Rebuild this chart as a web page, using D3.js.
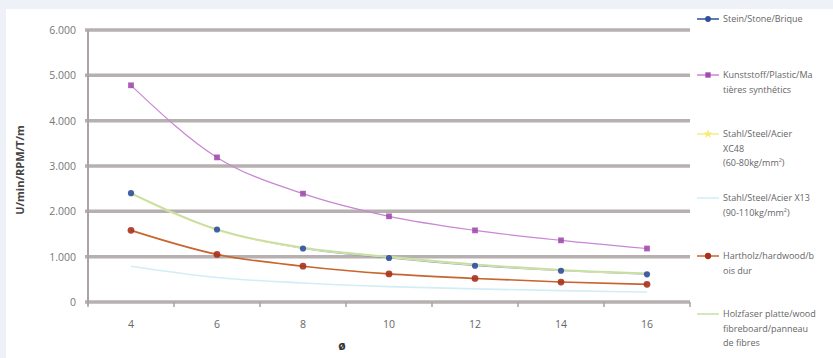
<!DOCTYPE html>
<html lang="en">
	<head>
		<meta charset="utf-8">
		<title>Drehzahl</title>
		<script type="text/javascript" src="https://cdn.jsdelivr.net/npm/d3@7/dist/d3.min.js"></script>
		<style type="text/css">
			body { margin: 0; background: #eef1f8; }
			svg { display: block; }
			text { font-family: "Open Sans", sans-serif; }
		</style>
	</head>
	<body>
		<script type="text/javascript">

			// Data
			var diameters = [4, 6, 8, 10, 12, 14, 16];
			var yTicks = [0, 1000, 2000, 3000, 4000, 5000, 6000];

			var stein      = [2400, 1600, 1180, 970, 800, 690, 610];
			var kunststoff = [4780, 3190, 2390, 1890, 1580, 1360, 1180];
			var stahlC45   = [2390, 1590, 1190, 990, 820, 700, 620];
			var stahlX13   = [790, 540, 420, 340, 290, 250, 220];
			var hartholz   = [1580, 1050, 790, 620, 520, 440, 390];
			var holzfaser  = [2400, 1600, 1200, 1000, 830, 710, 630];

			var seriesNames = [
				["Stein/Stone/Brique"],
				["Kunststoff/Plastic/Ma", "tières synthétics"],
				["Stahl/Steel/Acier", "XC48", "(60-80kg/mm²)"],
				["Stahl/Steel/Acier X13", "(90-110kg/mm²)"],
				["Hartholz/hardwood/b", "ois dur"],
				["Holzfaser platte/wood", "fibreboard/panneau", "de fibres"]
			];
			var seriesValues = [stein, kunststoff, stahlC45, stahlX13, hartholz, holzfaser];
			var colors = ["#2f4f9a", "#a34bb0", "#f5ec70", "#bfe6f2", "#a8321c", "#b8dca0"];
			var lineColors = ["#6f86b8", "#c986d3", "#f5ec90", "#d3edf6", "#c8642e", "#c4e0a8"];
			var lineWidths = [0.8, 1.2, 1.6, 1.6, 1.6, 1.8];
			var markers = ["diamond", "square", "none", "none", "circle", "none"];
			var legendMarkers = ["diamond", "square", "star", "none", "circle", "none"];
			var legendY = [19, 75, 134, 198, 256, 314];

			var w = 833, h = 358;
			var margin = {left: 88, right: 143, top: 30, bottom: 56};

			var svg = d3.select("body").append("svg")
						.attr("width", w)
						.attr("height", h);

			svg.append("rect")
			   .attr("x", 6).attr("y", 9)
			   .attr("width", w - 6).attr("height", h - 9)
			   .attr("fill", "#ffffff");

			var xScale = d3.scaleBand()
							.domain(diameters)
							.range([margin.left, w - margin.right]);

			var yScale = d3.scaleLinear()
							.domain([0, 6000])
							.range([h - margin.bottom, margin.top]);

			// gridlines
			svg.selectAll("line.grid")
			   .data(yTicks)
			   .enter()
			   .append("line")
			   .attr("class", "grid")
			   .attr("x1", margin.left - 3)
			   .attr("x2", w - margin.right)
			   .attr("y1", function(d) { return yScale(d); })
			   .attr("y2", function(d) { return yScale(d); })
			   .attr("stroke", "#b7b0b0")
			   .attr("stroke-width", 3.5);

			// y axis line
			svg.append("line")
			   .attr("x1", margin.left).attr("x2", margin.left)
			   .attr("y1", yScale(6000)).attr("y2", yScale(0) + 3)
			   .attr("stroke", "#a9a3a3")
			   .attr("stroke-width", 2);

			// x ticks between categories
			var bounds = diameters.map(function(d) { return xScale(d); }).concat([w - margin.right]);
			svg.selectAll("line.xtick")
			   .data(bounds)
			   .enter()
			   .append("line")
			   .attr("class", "xtick")
			   .attr("x1", function(d) { return d; })
			   .attr("x2", function(d) { return d; })
			   .attr("y1", yScale(0))
			   .attr("y2", yScale(0) + 5)
			   .attr("stroke", "#a9a3a3")
			   .attr("stroke-width", 1.5);

			// y tick labels
			var fmt = function(d) { return d === 0 ? "0" : d3.format(",")(d).replace(",", "."); };
			svg.selectAll("text.ylab")
			   .data(yTicks)
			   .enter()
			   .append("text")
			   .attr("class", "ylab")
			   .attr("x", margin.left - 12)
			   .attr("y", function(d) { return yScale(d) + 4; })
			   .attr("text-anchor", "end")
			   .attr("font-size", "10.5px")
			   .attr("fill", "#777")
			   .text(fmt);

			// x tick labels
			svg.selectAll("text.xlab")
			   .data(diameters)
			   .enter()
			   .append("text")
			   .attr("class", "xlab")
			   .attr("x", function(d) { return xScale(d) + xScale.bandwidth() / 2; })
			   .attr("y", yScale(0) + 26)
			   .attr("text-anchor", "middle")
			   .attr("font-size", "10.5px")
			   .attr("fill", "#666")
			   .text(function(d) { return d; });

			// axis titles
			svg.append("text")
			   .attr("x", 342)
			   .attr("y", 350)
			   .attr("text-anchor", "middle")
			   .attr("font-size", "12px")
			   .attr("font-weight", "bold")
			   .attr("fill", "#333")
			   .text("ø");

			svg.append("text")
			   .attr("transform", "translate(24," + 170 + ") rotate(-90)")
			   .attr("text-anchor", "middle")
			   .attr("font-size", "11px")
			   .attr("font-weight", "bold")
			   .attr("fill", "#444")
			   .text("U/min/RPM/T/m");

			var line = d3.line()
						.x(function(d, i) { return xScale(diameters[i]) + xScale.bandwidth() / 2; })
						.y(function(d) { return yScale(d); })
						.curve(d3.curveMonotoneX);

			var symbolFor = function(m, size) {
				if (m === "diamond") return d3.symbol().type(d3.symbolCircle).size(size)();
				if (m === "square") return d3.symbol().type(d3.symbolSquare).size(size * 1.1)();
				if (m === "star") return d3.symbol().type(d3.symbolStar).size(size)();
				if (m === "circle") return d3.symbol().type(d3.symbolCircle).size(size * 1.2)();
				return null;
			};

			// lines first
			seriesValues.forEach(function(vals, s) {
				svg.append("path")
				   .datum(vals)
				   .attr("d", line)
				   .attr("fill", "none")
				   .attr("stroke", lineColors[s])
				   .attr("stroke-width", lineWidths[s]);
			});

			// then markers
			seriesValues.forEach(function(vals, s) {
				if (markers[s] === "none") return;
				svg.selectAll("path.m" + s)
				   .data(vals)
				   .enter()
				   .append("path")
				   .attr("class", "m" + s)
				   .attr("transform", function(d, i) {
						return "translate(" + (xScale(diameters[i]) + xScale.bandwidth() / 2) + "," + yScale(d) + ")";
				   })
				   .attr("d", symbolFor(markers[s], 30))
				   .attr("fill", colors[s])
				   .attr("opacity", 0.9);
			});

			// legend
			var leg = svg.selectAll("g.leg")
						.data(seriesNames)
						.enter()
						.append("g")
						.attr("class", "leg")
						.attr("transform", function(d, i) { return "translate(697," + legendY[i] + ")"; });

			leg.append("line")
			   .attr("x1", 0).attr("x2", 22)
			   .attr("y1", 0).attr("y2", 0)
			   .attr("stroke", function(d, i) { return i === 0 ? colors[0] : lineColors[i]; })
			   .attr("stroke-width", 1.5);

			leg.append("path")
			   .attr("transform", "translate(11,0)")
			   .attr("d", function(d, i) { return symbolFor(legendMarkers[i], 26); })
			   .attr("fill", function(d, i) { return colors[i]; });

			leg.each(function(lines) {
				var g = d3.select(this);
				lines.forEach(function(t, j) {
					g.append("text")
					 .attr("x", 26)
					 .attr("y", 3 + j * 14.5)
					 .attr("font-size", "9px")
					 .attr("fill", "#666")
					 .text(t);
				});
			});
		</script>
	</body>
</html>
